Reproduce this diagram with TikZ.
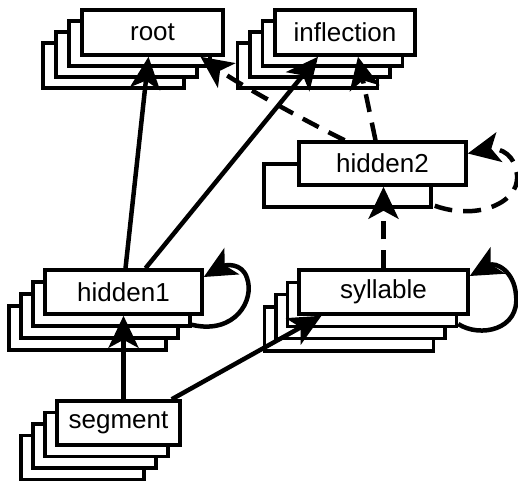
\documentclass[tikz,border=0pt]{standalone}
\usepackage{fontspec}
\setmainfont{Liberation Sans}
\usetikzlibrary{arrows.meta,calc}
\tikzset{
  box/.style={draw, fill=white, line width=3.5pt, rectangle, inner sep=0pt,
    font=\fontsize{26}{28}\selectfont},
  bigtip/.tip={Stealth[length=32pt,width=30pt,inset=8pt]},
  conn/.style={line width=4.5pt, -bigtip},
  dconn/.style={conn, dash pattern=on 18pt off 11pt},
}
\newcommand{\stackbox}[9]{%
  \foreach \k in {#8,...,1}{%
    \node[box, minimum width=#4pt, minimum height=#5pt] (#1b\k) at ({#2+\k*#6},{#3+\k*#7}) {};
  }
  \node[box, minimum width=#4pt, minimum height=#5pt] (#1) at (#2,#3) {#9};
}
\begin{document}
\begin{tikzpicture}[x=1pt,y=-1pt]
\useasboundingbox (0,0) rectangle (518,485);
\stackbox{root}{152.5}{32.5}{141}{45}{-13}{11}{3}{root}
\stackbox{infl}{345}{32.5}{140}{45}{-12.5}{11}{3}{inflection}
\stackbox{hid2}{382.5}{163.5}{167}{43}{-35}{22}{1}{hidden2}
\stackbox{hid1}{123.5}{292}{157}{44}{-12}{12}{3}{hidden1}
\stackbox{syl}{383.5}{292}{169}{44}{-11.5}{12.3}{3}{syllable}
\stackbox{seg}{118.5}{423}{123}{44}{-12}{11.5}{3}{segment}

\draw[conn] ($(hid1.north)+(2,0)$) -- ($(root.south)+(-4,0)$);
\draw[conn] ($(hid1.north)+(22,0)$) -- ($(infl.south)+(-27,0)$);
\draw[dconn] ($(hid2.north)+(-7,0)$) -- ($(infl.south)+(13,0)$);
\draw[dconn] ($(hid2.north)+(-38,0)$) .. controls (300,118) and (240,85) .. ($(root.south)+(48,0)$);
\draw[dconn] (syl.north) -- (syl.north |- hid2.south);
\draw[dconn] ($(hid2b1.south east)+(2,-3)$) .. controls (480,222) and (525,200) .. (516,170) .. controls (512,150) and (495,148) .. ($(hid2.east)+(0,-10)$);
\draw[conn] ($(hid1b1.south east)+(0,-3)$) .. controls (235,335) and (255,300) .. (247,278) .. controls (242,262) and (225,265) .. ($(hid1.east)+(0,-15)$);
\draw[conn] ($(sylb1.south east)+(0,-4)$) .. controls (480,338) and (520,330) .. (516,295) .. controls (514,270) and (495,262) .. ($(syl.east)+(0,-16)$);
\draw[conn] (hid1.south |- seg.north) -- (hid1.south);
\draw[conn] ($(seg.north east)+(-10,0)$) -- ($(syl.south)+(-62,0)$);
\end{tikzpicture}
\end{document}
